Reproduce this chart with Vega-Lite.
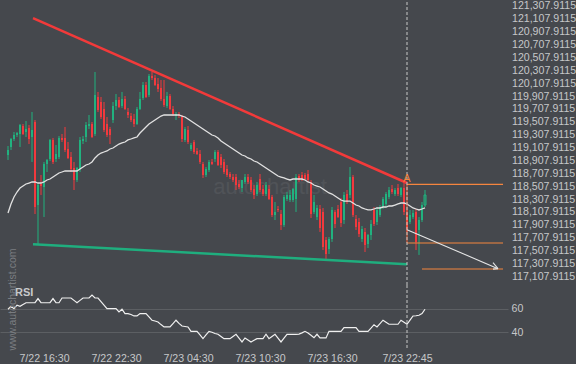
{
"$schema":"https://vega.github.io/schema/vega-lite/v6.json",
"background":"#45484d",
"padding":0,
"spacing":0,
"bounds":"flush",
"config":{"view":{"stroke":null},"axis":{"labelFont":"Liberation Sans","labelFontSize":10.6,"labelColor":"#c5c7c9","domain":false,"ticks":false,"grid":false,"labelOverlap":false},"text":{"font":"Liberation Sans"}},
"datasets":{
"candles":[
{"t":"2021-07-22T13:30Z","o":118992,"h":119132,"l":118915,"c":119070,"ma":118091,"rsi":59.5},
{"t":"2021-07-22T13:45Z","o":119117,"h":119257,"l":119070,"c":119241,"ma":118231,"rsi":62},
{"t":"2021-07-22T14:00Z","o":119241,"h":119350,"l":119210,"c":119303,"ma":118339,"rsi":60},
{"t":"2021-07-22T14:15Z","o":119303,"h":119350,"l":119272,"c":119334,"ma":118417,"rsi":62.9},
{"t":"2021-07-22T14:30Z","o":119319,"h":119474,"l":119117,"c":119459,"ma":118479,"rsi":62},
{"t":"2021-07-22T14:45Z","o":119443,"h":119474,"l":119303,"c":119319,"ma":118510,"rsi":63.5},
{"t":"2021-07-22T15:00Z","o":119350,"h":119521,"l":119272,"c":119396,"ma":118542,"rsi":65},
{"t":"2021-07-22T15:15Z","o":119412,"h":119459,"l":119163,"c":119241,"ma":118557,"rsi":65},
{"t":"2021-07-22T15:30Z","o":119272,"h":119661,"l":118884,"c":119381,"ma":118573,"rsi":65},
{"t":"2021-07-22T15:45Z","o":119505,"h":119536,"l":118075,"c":118184,"ma":118573,"rsi":65},
{"t":"2021-07-22T16:00Z","o":118215,"h":118557,"l":117609,"c":118526,"ma":118557,"rsi":68.5},
{"t":"2021-07-22T16:15Z","o":118542,"h":118681,"l":118371,"c":118510,"ma":118557,"rsi":65},
{"t":"2021-07-22T16:30Z","o":118495,"h":118884,"l":118029,"c":118852,"ma":118573,"rsi":65},
{"t":"2021-07-22T16:45Z","o":118852,"h":118930,"l":118728,"c":118915,"ma":118604,"rsi":65},
{"t":"2021-07-22T17:00Z","o":118930,"h":119241,"l":118899,"c":119226,"ma":118619,"rsi":65},
{"t":"2021-07-22T17:15Z","o":119226,"h":119257,"l":118852,"c":118884,"ma":118650,"rsi":68.5},
{"t":"2021-07-22T17:30Z","o":118930,"h":119148,"l":118884,"c":119008,"ma":118681,"rsi":65},
{"t":"2021-07-22T17:45Z","o":118961,"h":119288,"l":118930,"c":119257,"ma":118713,"rsi":65},
{"t":"2021-07-22T18:00Z","o":119257,"h":119319,"l":119194,"c":119226,"ma":118728,"rsi":69},
{"t":"2021-07-22T18:15Z","o":119257,"h":119428,"l":119039,"c":119070,"ma":118744,"rsi":69},
{"t":"2021-07-22T18:30Z","o":119086,"h":119194,"l":118930,"c":118946,"ma":118744,"rsi":69},
{"t":"2021-07-22T18:45Z","o":118961,"h":119039,"l":118728,"c":118775,"ma":118744,"rsi":69},
{"t":"2021-07-22T19:00Z","o":118790,"h":118884,"l":118448,"c":118604,"ma":118744,"rsi":67},
{"t":"2021-07-22T19:15Z","o":118604,"h":118806,"l":118573,"c":118790,"ma":118744,"rsi":65},
{"t":"2021-07-22T19:30Z","o":118775,"h":119272,"l":118728,"c":119226,"ma":118775,"rsi":67},
{"t":"2021-07-22T19:45Z","o":119210,"h":119288,"l":119163,"c":119241,"ma":118806,"rsi":69},
{"t":"2021-07-22T20:00Z","o":119272,"h":119505,"l":119194,"c":119459,"ma":118837,"rsi":69},
{"t":"2021-07-22T20:15Z","o":119443,"h":119614,"l":119396,"c":119474,"ma":118852,"rsi":69},
{"t":"2021-07-22T20:30Z","o":119474,"h":119505,"l":119257,"c":119272,"ma":118884,"rsi":71.4},
{"t":"2021-07-22T20:45Z","o":119319,"h":120282,"l":119288,"c":119925,"ma":118946,"rsi":69},
{"t":"2021-07-22T21:00Z","o":119894,"h":119972,"l":119661,"c":119692,"ma":118992,"rsi":69},
{"t":"2021-07-22T21:15Z","o":119816,"h":119894,"l":119552,"c":119583,"ma":119023,"rsi":66},
{"t":"2021-07-22T21:30Z","o":119707,"h":119816,"l":119350,"c":119381,"ma":119039,"rsi":63},
{"t":"2021-07-22T21:45Z","o":119474,"h":119583,"l":119272,"c":119303,"ma":119055,"rsi":60},
{"t":"2021-07-22T22:00Z","o":119396,"h":119428,"l":119163,"c":119303,"ma":119086,"rsi":60},
{"t":"2021-07-22T22:15Z","o":119536,"h":119816,"l":119490,"c":119754,"ma":119101,"rsi":60},
{"t":"2021-07-22T22:30Z","o":119754,"h":119940,"l":119692,"c":119847,"ma":119132,"rsi":60},
{"t":"2021-07-22T22:45Z","o":119847,"h":119894,"l":119723,"c":119738,"ma":119163,"rsi":57.2},
{"t":"2021-07-22T23:00Z","o":119754,"h":119972,"l":119723,"c":119863,"ma":119179,"rsi":59.5},
{"t":"2021-07-22T23:15Z","o":119863,"h":119909,"l":119692,"c":119707,"ma":119194,"rsi":55.8},
{"t":"2021-07-22T23:30Z","o":119661,"h":119723,"l":119567,"c":119614,"ma":119226,"rsi":55.8},
{"t":"2021-07-22T23:45Z","o":119598,"h":119645,"l":119505,"c":119536,"ma":119241,"rsi":55},
{"t":"2021-07-23T00:00Z","o":119552,"h":119630,"l":119428,"c":119474,"ma":119257,"rsi":53.8},
{"t":"2021-07-23T00:15Z","o":119474,"h":119738,"l":119459,"c":119707,"ma":119272,"rsi":53.8},
{"t":"2021-07-23T00:30Z","o":119707,"h":119972,"l":119692,"c":119863,"ma":119334,"rsi":55.8},
{"t":"2021-07-23T00:45Z","o":119878,"h":120127,"l":119847,"c":120080,"ma":119381,"rsi":55.8},
{"t":"2021-07-23T01:00Z","o":120080,"h":120127,"l":119878,"c":119894,"ma":119428,"rsi":55.8},
{"t":"2021-07-23T01:15Z","o":119925,"h":120251,"l":119894,"c":120220,"ma":119474,"rsi":53},
{"t":"2021-07-23T01:30Z","o":120220,"h":120282,"l":120158,"c":120189,"ma":119505,"rsi":50.2},
{"t":"2021-07-23T01:45Z","o":120189,"h":120236,"l":120065,"c":120080,"ma":119536,"rsi":49.5},
{"t":"2021-07-23T02:00Z","o":120096,"h":120189,"l":119972,"c":120018,"ma":119567,"rsi":48.7},
{"t":"2021-07-23T02:15Z","o":120034,"h":120158,"l":119832,"c":119863,"ma":119598,"rsi":46.5},
{"t":"2021-07-23T02:30Z","o":119863,"h":120158,"l":119738,"c":119769,"ma":119614,"rsi":44.5},
{"t":"2021-07-23T02:45Z","o":119754,"h":119972,"l":119723,"c":119909,"ma":119614,"rsi":44.5},
{"t":"2021-07-23T03:00Z","o":119909,"h":119940,"l":119692,"c":119707,"ma":119614,"rsi":44.5},
{"t":"2021-07-23T03:15Z","o":119707,"h":119754,"l":119598,"c":119630,"ma":119614,"rsi":47.4},
{"t":"2021-07-23T03:30Z","o":119598,"h":119661,"l":119536,"c":119630,"ma":119614,"rsi":50.2},
{"t":"2021-07-23T03:45Z","o":119630,"h":119661,"l":119567,"c":119598,"ma":119614,"rsi":47.5},
{"t":"2021-07-23T04:00Z","o":119583,"h":119614,"l":119194,"c":119241,"ma":119598,"rsi":45.3},
{"t":"2021-07-23T04:15Z","o":119226,"h":119428,"l":119194,"c":119396,"ma":119583,"rsi":44.9},
{"t":"2021-07-23T04:30Z","o":119381,"h":119443,"l":119163,"c":119194,"ma":119552,"rsi":44.5},
{"t":"2021-07-23T04:45Z","o":119086,"h":119179,"l":119055,"c":119148,"ma":119521,"rsi":40.8},
{"t":"2021-07-23T05:00Z","o":119194,"h":119226,"l":119008,"c":119039,"ma":119490,"rsi":40.8},
{"t":"2021-07-23T05:15Z","o":119055,"h":119101,"l":118992,"c":119008,"ma":119459,"rsi":40.8},
{"t":"2021-07-23T05:30Z","o":119008,"h":119070,"l":118852,"c":118884,"ma":119428,"rsi":37.7},
{"t":"2021-07-23T05:45Z","o":118852,"h":118884,"l":118635,"c":118681,"ma":119396,"rsi":34.6},
{"t":"2021-07-23T06:00Z","o":118681,"h":118806,"l":118650,"c":118775,"ma":119365,"rsi":37.7},
{"t":"2021-07-23T06:15Z","o":118759,"h":118915,"l":118728,"c":118884,"ma":119334,"rsi":40.8},
{"t":"2021-07-23T06:30Z","o":118884,"h":118930,"l":118837,"c":118852,"ma":119303,"rsi":40},
{"t":"2021-07-23T06:45Z","o":118930,"h":119070,"l":118884,"c":119039,"ma":119288,"rsi":39},
{"t":"2021-07-23T07:00Z","o":119039,"h":119070,"l":118821,"c":118837,"ma":119257,"rsi":38.3},
{"t":"2021-07-23T07:15Z","o":118961,"h":119008,"l":118790,"c":118837,"ma":119210,"rsi":36.5},
{"t":"2021-07-23T07:30Z","o":118884,"h":118930,"l":118697,"c":118728,"ma":119179,"rsi":34.6},
{"t":"2021-07-23T07:45Z","o":118775,"h":118837,"l":118650,"c":118681,"ma":119148,"rsi":34.6},
{"t":"2021-07-23T08:00Z","o":118697,"h":118728,"l":118619,"c":118650,"ma":119117,"rsi":34.6},
{"t":"2021-07-23T08:15Z","o":118650,"h":118697,"l":118573,"c":118604,"ma":119086,"rsi":36.5},
{"t":"2021-07-23T08:30Z","o":118650,"h":118697,"l":118448,"c":118526,"ma":119055,"rsi":38.3},
{"t":"2021-07-23T08:45Z","o":118542,"h":118604,"l":118464,"c":118495,"ma":119023,"rsi":35},
{"t":"2021-07-23T09:00Z","o":118479,"h":118573,"l":118417,"c":118604,"ma":118992,"rsi":31.8},
{"t":"2021-07-23T09:15Z","o":118573,"h":118697,"l":118542,"c":118650,"ma":118977,"rsi":35.2},
{"t":"2021-07-23T09:30Z","o":118650,"h":118697,"l":118542,"c":118573,"ma":118946,"rsi":33.5},
{"t":"2021-07-23T09:45Z","o":118604,"h":118650,"l":118417,"c":118448,"ma":118930,"rsi":31.8},
{"t":"2021-07-23T10:00Z","o":118464,"h":118526,"l":118308,"c":118371,"ma":118899,"rsi":33.2},
{"t":"2021-07-23T10:15Z","o":118386,"h":118573,"l":118355,"c":118526,"ma":118884,"rsi":34.6},
{"t":"2021-07-23T10:30Z","o":118619,"h":118697,"l":118417,"c":118448,"ma":118852,"rsi":34.6},
{"t":"2021-07-23T10:45Z","o":118464,"h":118526,"l":118355,"c":118386,"ma":118821,"rsi":34.6},
{"t":"2021-07-23T11:00Z","o":118386,"h":118573,"l":118355,"c":118526,"ma":118790,"rsi":38.3},
{"t":"2021-07-23T11:15Z","o":118464,"h":118526,"l":118293,"c":118308,"ma":118759,"rsi":34.6},
{"t":"2021-07-23T11:30Z","o":118339,"h":118371,"l":118029,"c":118060,"ma":118728,"rsi":36.5},
{"t":"2021-07-23T11:45Z","o":118060,"h":118262,"l":117982,"c":118107,"ma":118697,"rsi":38.3},
{"t":"2021-07-23T12:00Z","o":118153,"h":118200,"l":118107,"c":118138,"ma":118666,"rsi":35},
{"t":"2021-07-23T12:15Z","o":118075,"h":118138,"l":117827,"c":117905,"ma":118650,"rsi":31.8},
{"t":"2021-07-23T12:30Z","o":117905,"h":118371,"l":117874,"c":118339,"ma":118635,"rsi":35},
{"t":"2021-07-23T12:45Z","o":118308,"h":118417,"l":118277,"c":118371,"ma":118619,"rsi":38.3},
{"t":"2021-07-23T13:00Z","o":118293,"h":118448,"l":118262,"c":118371,"ma":118604,"rsi":38.3},
{"t":"2021-07-23T13:15Z","o":118293,"h":118479,"l":118262,"c":118464,"ma":118619,"rsi":38.3},
{"t":"2021-07-23T13:30Z","o":118308,"h":118697,"l":118107,"c":118650,"ma":118619,"rsi":38.3},
{"t":"2021-07-23T13:45Z","o":118666,"h":118697,"l":118573,"c":118604,"ma":118619,"rsi":38.5},
{"t":"2021-07-23T14:00Z","o":118681,"h":118728,"l":118588,"c":118604,"ma":118619,"rsi":39.5},
{"t":"2021-07-23T14:15Z","o":118681,"h":118713,"l":118604,"c":118619,"ma":118604,"rsi":40.8},
{"t":"2021-07-23T14:30Z","o":118697,"h":118759,"l":118573,"c":118604,"ma":118573,"rsi":39.4},
{"t":"2021-07-23T14:45Z","o":118573,"h":118604,"l":118013,"c":118075,"ma":118557,"rsi":37.5},
{"t":"2021-07-23T15:00Z","o":118107,"h":118371,"l":118075,"c":118262,"ma":118526,"rsi":35.4},
{"t":"2021-07-23T15:15Z","o":118029,"h":118215,"l":117982,"c":118169,"ma":118510,"rsi":38.3},
{"t":"2021-07-23T15:30Z","o":118153,"h":118215,"l":117796,"c":117858,"ma":118495,"rsi":35.2},
{"t":"2021-07-23T15:45Z","o":118107,"h":118169,"l":117516,"c":117563,"ma":118464,"rsi":35.2},
{"t":"2021-07-23T16:00Z","o":117672,"h":117718,"l":117377,"c":117454,"ma":118433,"rsi":35.2},
{"t":"2021-07-23T16:15Z","o":117532,"h":117718,"l":117454,"c":117687,"ma":118402,"rsi":40.8},
{"t":"2021-07-23T16:30Z","o":117687,"h":118184,"l":117641,"c":118138,"ma":118386,"rsi":40.8},
{"t":"2021-07-23T16:45Z","o":118107,"h":118138,"l":117858,"c":117920,"ma":118355,"rsi":40.8},
{"t":"2021-07-23T17:00Z","o":118153,"h":118215,"l":118013,"c":118029,"ma":118324,"rsi":40.8},
{"t":"2021-07-23T17:15Z","o":118262,"h":118324,"l":117874,"c":117936,"ma":118293,"rsi":40.8},
{"t":"2021-07-23T17:30Z","o":117982,"h":118417,"l":117920,"c":118371,"ma":118277,"rsi":43.9},
{"t":"2021-07-23T17:45Z","o":118386,"h":118448,"l":118231,"c":118262,"ma":118277,"rsi":43.9},
{"t":"2021-07-23T18:00Z","o":118371,"h":118806,"l":118324,"c":118650,"ma":118277,"rsi":43.9},
{"t":"2021-07-23T18:15Z","o":118650,"h":118681,"l":118029,"c":118060,"ma":118246,"rsi":43.9},
{"t":"2021-07-23T18:30Z","o":117998,"h":118060,"l":117827,"c":117874,"ma":118215,"rsi":43.9},
{"t":"2021-07-23T18:45Z","o":117951,"h":118013,"l":117718,"c":117765,"ma":118200,"rsi":40.8},
{"t":"2021-07-23T19:00Z","o":117687,"h":117889,"l":117641,"c":117842,"ma":118169,"rsi":40.8},
{"t":"2021-07-23T19:15Z","o":117796,"h":117858,"l":117485,"c":117594,"ma":118153,"rsi":40.8},
{"t":"2021-07-23T19:30Z","o":117609,"h":117765,"l":117547,"c":117749,"ma":118138,"rsi":40.8},
{"t":"2021-07-23T19:45Z","o":117749,"h":117982,"l":117672,"c":117920,"ma":118138,"rsi":43.5},
{"t":"2021-07-23T20:00Z","o":118138,"h":118184,"l":117889,"c":117920,"ma":118153,"rsi":46.4},
{"t":"2021-07-23T20:15Z","o":117951,"h":118184,"l":117905,"c":118138,"ma":118169,"rsi":44.5},
{"t":"2021-07-23T20:30Z","o":118060,"h":118215,"l":118029,"c":118184,"ma":118169,"rsi":47.3},
{"t":"2021-07-23T20:45Z","o":118184,"h":118339,"l":118153,"c":118308,"ma":118184,"rsi":50.2},
{"t":"2021-07-23T21:00Z","o":118231,"h":118417,"l":118184,"c":118386,"ma":118184,"rsi":48.5},
{"t":"2021-07-23T21:15Z","o":118339,"h":118495,"l":118308,"c":118448,"ma":118200,"rsi":46.8},
{"t":"2021-07-23T21:30Z","o":118464,"h":118526,"l":118386,"c":118417,"ma":118200,"rsi":46.8},
{"t":"2021-07-23T21:45Z","o":118386,"h":118479,"l":118355,"c":118448,"ma":118215,"rsi":46.8},
{"t":"2021-07-23T22:00Z","o":118479,"h":118542,"l":118355,"c":118386,"ma":118231,"rsi":46.8},
{"t":"2021-07-23T22:15Z","o":118371,"h":118495,"l":118339,"c":118479,"ma":118246,"rsi":50.2},
{"t":"2021-07-23T22:30Z","o":118479,"h":118573,"l":118060,"c":118107,"ma":118246,"rsi":48.5},
{"t":"2021-07-23T22:45Z","o":118091,"h":118138,"l":117796,"c":117842,"ma":118231,"rsi":46.8},
{"t":"2021-07-23T23:00Z","o":117951,"h":118138,"l":117920,"c":118060,"ma":118200,"rsi":50.3},
{"t":"2021-07-23T23:15Z","o":118029,"h":118138,"l":117998,"c":118091,"ma":118169,"rsi":53.8},
{"t":"2021-07-23T23:30Z","o":118107,"h":118153,"l":117516,"c":117641,"ma":118153,"rsi":54},
{"t":"2021-07-23T23:45Z","o":117827,"h":118029,"l":117439,"c":117982,"ma":118138,"rsi":54.4},
{"t":"2021-07-24T00:00Z","o":117982,"h":118262,"l":117951,"c":118215,"ma":118153,"rsi":55.8},
{"t":"2021-07-24T00:15Z","o":118215,"h":118448,"l":118184,"c":118371,"ma":118169,"rsi":59.5}
],
"lines":[
{"name":"res","t":"2021-07-22T15:35Z","p":121121},
{"name":"res","t":"2021-07-23T22:45Z","p":118557},
{"name":"sup","t":"2021-07-22T15:35Z","p":117605},
{"name":"sup","t":"2021-07-23T22:45Z","p":117294},
{"name":"o1","t":"2021-07-23T22:45Z","p":118537},
{"name":"o1","t":"2021-07-24T06:45Z","p":118537},
{"name":"o2","t":"2021-07-23T22:45Z","p":117625},
{"name":"o2","t":"2021-07-24T06:45Z","p":117625},
{"name":"o3","t":"2021-07-24T00:00Z","p":117221},
{"name":"o3","t":"2021-07-24T06:45Z","p":117221},
{"name":"ov","t":"2021-07-23T22:45Z","p":118537},
{"name":"ov","t":"2021-07-23T22:45Z","p":117625},
{"name":"arrow","t":"2021-07-23T22:45Z","p":117832},
{"name":"arrow","t":"2021-07-24T06:20Z","p":117226},
{"name":"head1","t":"2021-07-24T05:55Z","p":117319},
{"name":"head1","t":"2021-07-24T06:20Z","p":117226},
{"name":"head2","t":"2021-07-24T05:55Z","p":117218},
{"name":"head2","t":"2021-07-24T06:20Z","p":117226}
]
},
"vconcat":[
{
"width":508,"height":283,
"layer":[
{"data":{"values":[{"label":"autochartist","t":"2021-07-23T11:20Z","p":118495}]},
 "mark":{"type":"text","fontSize":22,"color":"#ffffff","opacity":0.06,"baseline":"middle","align":"center"},
 "encoding":{"x":{"field":"t","type":"temporal","title":null,"axis":null,"scale":{"type":"utc","padding":0,"domain":[{"year":2021,"month":7,"date":22,"hours":12,"minutes":50,"utc":true},{"year":2021,"month":7,"date":24,"hours":7,"minutes":10,"utc":true}]}},
 "y":{"field":"p","type":"quantitative","title":null,"scale":{"domain":[116972,121370],"nice":false,"zero":false,"padding":0},"axis":{"orient":"right","labelPadding":3.5,"labelOverlap":false,"tickCount":40,"format":",.4f","values":[117107.9115,117307.9115,117507.9115,117707.9115,117907.9115,118107.9115,118307.9115,118507.9115,118707.9115,118907.9115,119107.9115,119307.9115,119507.9115,119707.9115,119907.9115,120107.9115,120307.9115,120507.9115,120707.9115,120907.9115,121107.9115,121307.9115]}},
 "text":{"field":"label"}}},
{"data":{"name":"candles"},
 "mark":{"type":"rule","strokeWidth":1},
 "encoding":{"x":{"field":"t","type":"temporal","title":null,"axis":null},
 "y":{"field":"l","type":"quantitative","title":null},"y2":{"field":"h"},
 "color":{"condition":{"test":"datum.c >= datum.o","value":"#21b27f"},"value":"#f2393d"}}},
{"data":{"name":"candles"},
 "mark":{"type":"bar","width":2},
 "encoding":{"x":{"field":"t","type":"temporal","title":null,"axis":null},
 "y":{"field":"o","type":"quantitative","title":null},"y2":{"field":"c"},
 "color":{"condition":{"test":"datum.c >= datum.o","value":"#21b27f"},"value":"#f2393d"},
 "fillOpacity":{"condition":{"test":"time(datum.t) >= utc(2021,6,24,0,15)","value":0},"value":1},
 "stroke":{"condition":{"test":"time(datum.t) >= utc(2021,6,24,0,15)","value":"#21b27f"},"value":null},
 "strokeWidth":{"condition":{"test":"time(datum.t) >= utc(2021,6,24,0,15)","value":1},"value":0}}},
{"data":{"name":"candles"},
 "mark":{"type":"line","color":"#e2e2e2","strokeWidth":1.3},
 "encoding":{"x":{"field":"t","type":"temporal","title":null,"axis":null},
 "y":{"field":"ma","type":"quantitative","title":null}}},
{"data":{"name":"lines"},
 "mark":{"type":"line"},
 "encoding":{"x":{"field":"t","type":"temporal","title":null,"axis":null},
 "y":{"field":"p","type":"quantitative","title":null},
 "color":{"field":"name","type":"nominal","legend":null,"scale":{"domain":["res","sup","o1","o2","o3","ov","arrow","head1","head2"],"range":["#f23a3a","#1fae7e","#f5853f","#f5853f","#f5853f","#f0603a","#e6e6e6","#e6e6e6","#e6e6e6"]}},
 "strokeWidth":{"field":"name","type":"nominal","legend":null,"scale":{"type":"ordinal","domain":["res","sup","o1","o2","o3","ov","arrow","head1","head2"],"range":[2.5,2.5,1.2,1.2,1.2,1,1.1,1.1,1.1]}}}},
{"data":{"values":[{"t":"2021-07-23T22:45Z","panel":"price"}]},
 "mark":{"type":"rule","color":"#c8c8c8","strokeDash":[3,2],"strokeWidth":1},
 "encoding":{"x":{"field":"t","type":"temporal","title":null,"axis":null}}},
{"data":{"values":[{"label":"A","t":"2021-07-23T22:45Z","p":118612}]},
 "mark":{"type":"text","fontSize":11,"color":"#f5853f","baseline":"middle","align":"center"},
 "encoding":{"x":{"field":"t","type":"temporal","title":null,"axis":null},
 "y":{"field":"p","type":"quantitative","title":null},"text":{"field":"label"}}}
]
},
{
"width":508,"height":65,
"layer":[
{"data":{"name":"candles"},
 "mark":{"type":"line","color":"#f0f0f0","strokeWidth":1.2},
 "encoding":{"x":{"field":"t","type":"temporal","title":null,"scale":{"type":"utc","padding":0,"domain":[{"year":2021,"month":7,"date":22,"hours":12,"minutes":50,"utc":true},{"year":2021,"month":7,"date":24,"hours":7,"minutes":10,"utc":true}]},
   "axis":{"orient":"bottom","labelPadding":3,"labelFlush":false,"tickCount":20,"format":"%-m/%-d %H:%M","values":[{"year":2021,"month":7,"date":22,"hours":16,"minutes":30,"utc":true},{"year":2021,"month":7,"date":22,"hours":22,"minutes":30,"utc":true},{"year":2021,"month":7,"date":23,"hours":4,"minutes":30,"utc":true},{"year":2021,"month":7,"date":23,"hours":10,"minutes":30,"utc":true},{"year":2021,"month":7,"date":23,"hours":16,"minutes":30,"utc":true},{"year":2021,"month":7,"date":23,"hours":22,"minutes":45,"utc":true}]}},
 "y":{"field":"rsi","type":"quantitative","title":null,"scale":{"domain":[25,80],"nice":false,"zero":false},"axis":{"orient":"right","labelPadding":3,"tickCount":5,"values":[40,60],"grid":true,"gridColor":"#5c5f63","gridWidth":1}}}},
{"data":{"values":[{"t":"2021-07-23T22:45Z","panel":"rsi"}]},
 "mark":{"type":"rule","color":"#c8c8c8","strokeDash":[3,2],"strokeWidth":1},
 "encoding":{"x":{"field":"t","type":"temporal","title":null}}},
{"data":{"values":[{"label":"RSI","t":"2021-07-22T14:05Z","v":73.2}]},
 "mark":{"type":"text","fontSize":11,"fontWeight":"bold","color":"#c8cacc","align":"left","baseline":"middle"},
 "encoding":{"x":{"field":"t","type":"temporal","title":null},"y":{"field":"v","type":"quantitative","title":null},"text":{"field":"label"}}},
{"data":{"values":[{"label":"www.autochartist.com","t":"2021-07-22T13:56Z","v":67.7}]},
 "mark":{"type":"text","fontSize":10.5,"color":"#7a7d81","align":"center","baseline":"middle","angle":270},
 "encoding":{"x":{"field":"t","type":"temporal","title":null},"y":{"field":"v","type":"quantitative","title":null},"text":{"field":"label"}}}
]
}
]
}
